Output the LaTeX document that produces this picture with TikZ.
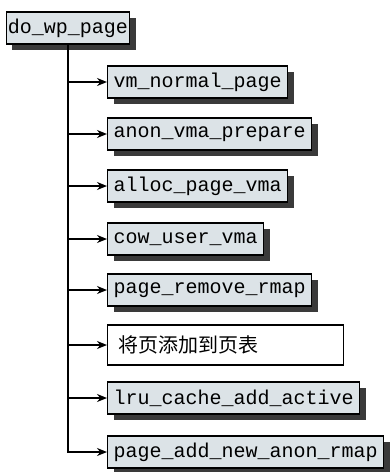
\documentclass[tikz,border=0pt]{standalone}
\usepackage{fontspec}
\setmonofont{Liberation Mono}
\newfontfamily\cjk{Noto Sans CJK SC}
\usetikzlibrary{arrows.meta, shadows}
\definecolor{boxfill}   {HTML}{DCE3E7}
\definecolor{shadowgray}{HTML}{3A3A3A}
\begin{document}
\begin{tikzpicture}[
    x=1pt, y=-1pt,
    func/.style={draw, line width=1.2pt, fill=boxfill,
                 minimum height=32pt, inner xsep=6pt, inner ysep=0pt,
                 font=\ttfamily\fontsize{20}{24}\selectfont,
                 drop shadow={shadow xshift=6pt, shadow yshift=-6pt,
                              fill=shadowgray, opacity=1}},
    plain/.style={draw, line width=1.2pt, fill=white, anchor=west,
                  minimum height=40pt, inner xsep=11pt, inner ysep=0pt,
                  text width=214pt, align=left,
                  font=\cjk\fontsize{20}{24}\selectfont},
    arr/.style={-{Stealth[length=10pt, width=8pt]}, line width=2pt},
  ]
    \useasboundingbox (0,0) rectangle (391,472);

    \node[func, inner xsep=1.5pt] (root) at (68,28) {do\_wp\_page};

    \node[func, anchor=west] (normal)  at (107,82)  {vm\_normal\_page};
    \node[func, anchor=west] (anon)    at (107,134) {anon\_vma\_prepare};
    \node[func, anchor=west] (alloc)   at (107,186) {alloc\_page\_vma};
    \node[func, anchor=west] (cow)     at (107,239) {cow\_user\_vma};
    \node[func, anchor=west] (remove)  at (107,290) {page\_remove\_rmap};
    \node[plain]             (table)   at (107,345) {将页添加到页表};
    \node[func, anchor=west] (lru)     at (107,398) {lru\_cache\_add\_active};
    \node[func, anchor=west] (newrmap) at (107,452) {page\_add\_new\_anon\_rmap};

    \draw[arr] (root.south) |- (normal.west);
    \draw[arr] (root.south) |- (anon.west);
    \draw[arr] (root.south) |- (alloc.west);
    \draw[arr] (root.south) |- (cow.west);
    \draw[arr] (root.south) |- (remove.west);
    \draw[arr] (root.south) |- (table.west);
    \draw[arr] (root.south) |- (lru.west);
    \draw[arr] (root.south) |- (newrmap.west);
  \end{tikzpicture}
\end{document}
